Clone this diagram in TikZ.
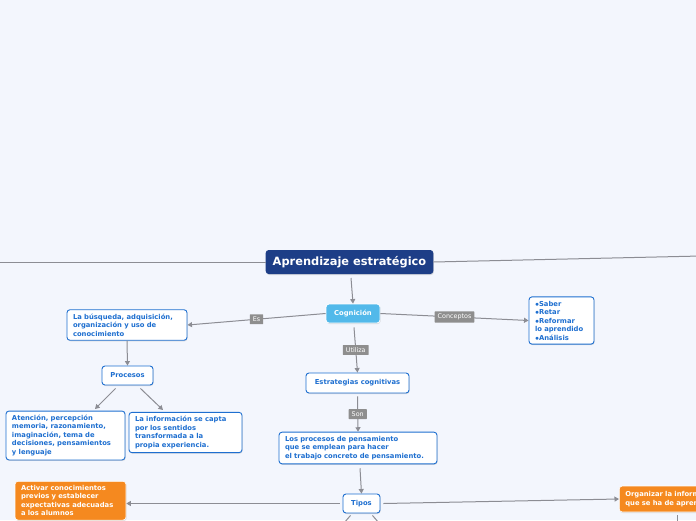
\documentclass[tikz,border=0pt]{standalone}
\usepackage{fontspec}
\setmainfont{DejaVu Sans}
\usetikzlibrary{arrows.meta,shadows}
\definecolor{pagebg}{HTML}{F3F6FD}
\definecolor{titleblue}{HTML}{1D3E87}
\definecolor{cogblue}{HTML}{52B9EA}
\definecolor{boxblue}{HTML}{1E6FD0}
\definecolor{boxorange}{HTML}{F5891F}
\definecolor{linegray}{HTML}{8C8D94}
\definecolor{taggray}{HTML}{8E8E8E}
\tikzset{
        mapnode/.style={align=left, rounded corners=3pt, inner xsep=6pt, inner ysep=4pt,
            font=\fontsize{6.8}{8.5}\selectfont\bfseries,
            drop shadow={shadow xshift=0.6pt, shadow yshift=-1pt, opacity=0.25}},
        % Central title
        node_title/.style={mapnode, fill=titleblue, text=white, font=\fontsize{11.4}{13}\selectfont\bfseries,
            minimum height=24pt, inner xsep=7pt},
        % Main topic
        node_topic/.style={mapnode, fill=cogblue, draw=white, line width=0.8pt, text=white, minimum height=19pt},
        % Blue subtopics
        node_sub/.style={mapnode, fill=white, draw=boxblue, line width=0.9pt, text=boxblue},
        % Orange subtopics
        node_orange/.style={mapnode, fill=boxorange, draw=white, line width=0.6pt, text=white},
        % Connector labels
        node_tag/.style={fill=taggray, text=white, inner xsep=3pt, inner ysep=2.5pt,
            font=\fontsize{6.4}{7}\selectfont, rounded corners=0.5pt},
        link/.style={draw=linegray, line width=1pt},
        arrowlink/.style={link, -{Triangle[width=5pt,length=4.5pt]}}
}
\begin{document}
\begin{tikzpicture}[x=1pt, y=-1pt]
    \fill[pagebg] (0,0) rectangle (696,520);
    \clip (0,0) rectangle (696,520);
    % page edges for open branches
    \coordinate (leftend) at (-5,262);
    \coordinate (rightend) at (701,256);
    \coordinate (tiposdownleft) at (338,530);
    \coordinate (tiposdownright) at (385,530);
    \coordinate (orgdown) at (677,530);

    \node[node_title] (title) at (349.5,262) {Aprendizaje estratégico};
    \node[node_topic, minimum width=54pt] (cog) at (353,313.5) {Cognición};
    \node[node_sub, text width=108pt] (busq) at (127,325)
        {La búsqueda, adquisición,\\organización y uso de\\conocimiento};
    \node[node_sub, minimum width=51pt, minimum height=19pt, align=center] (proc) at (127.5,375.5) {Procesos};
    \node[node_sub, text width=107pt] (aten) at (65.5,435.5)
        {Atención, percepción\\memoria, razonamiento,\\imaginación, tema de\\decisiones, pensamientos\\y lenguaje};
    \node[node_sub, text width=101pt] (info) at (185.5,432.5)
        {La información se capta\\por los sentidos\\transformada a la\\propia experiencia.};
    \node[node_sub, text width=53pt] (saber) at (561.5,320.5)
        {$\bullet$Saber\\$\bullet$Retar\\$\bullet$Reformar\\lo aprendido\\$\bullet$Análisis};
    \node[node_sub, minimum width=103pt, minimum height=20pt, align=center] (estr) at (357.5,383) {Estrategias cognitivas};
    \node[node_sub, text width=146pt] (procpen) at (358,448)
        {Los procesos de pensamiento\\que se emplean para hacer\\el trabajo concreto de pensamiento.};
    \node[node_sub, minimum width=37pt, minimum height=19pt, align=center] (tipos) at (361.5,503.5) {Tipos};
    \node[node_orange, text width=99pt, anchor=north] (activ) at (70.5,481)
        {Activar conocimientos\\previos y establecer\\expectativas adecuadas\\a los alumnos};
    \node[node_orange, text width=112pt, anchor=west, minimum height=26pt] (organ) at (619,499)
        {Organizar la información\\que se ha de aprender};

    % connectors
    \draw[link] (title.west) -- (leftend);
    \draw[link] (title.east) -- (rightend);
    \draw[arrowlink] (351,278) -- (cog.north);
    \draw[arrowlink] (cog.west) -- node[node_tag]{Es} (busq.east);
    \draw[arrowlink] (cog.east) -- node[node_tag]{Conceptos} (saber.west);
    \draw[arrowlink] (busq.south) -- (proc.north);
    \draw[arrowlink] (proc.south west) ++(14,3) -- (95,409);
    \draw[arrowlink] (proc.south east) ++(-13,3) -- (163,410);
    \draw[arrowlink] (cog.south) ++(1,4) -- node[node_tag]{Utiliza} (estr.north);
    \draw[arrowlink] (estr.south) ++(0,3) -- node[node_tag]{Son} (procpen.north);
    \draw[arrowlink] (procpen.south) ++(2,4) -- (tipos.north);
    \draw[arrowlink] (tipos.west) ++(-3,0) -- (activ.east |- tipos.west);
    \draw[arrowlink] (tipos.east) ++(3,0) -- (organ.west);
    \draw[link] (tipos.south) ++(-11,2) -- (tiposdownleft);
    \draw[link] (tipos.south) ++(11,2) -- (tiposdownright);
    \draw[link] (organ.south west) ++(58,3) -- (orgdown);
\end{tikzpicture}
\end{document}
